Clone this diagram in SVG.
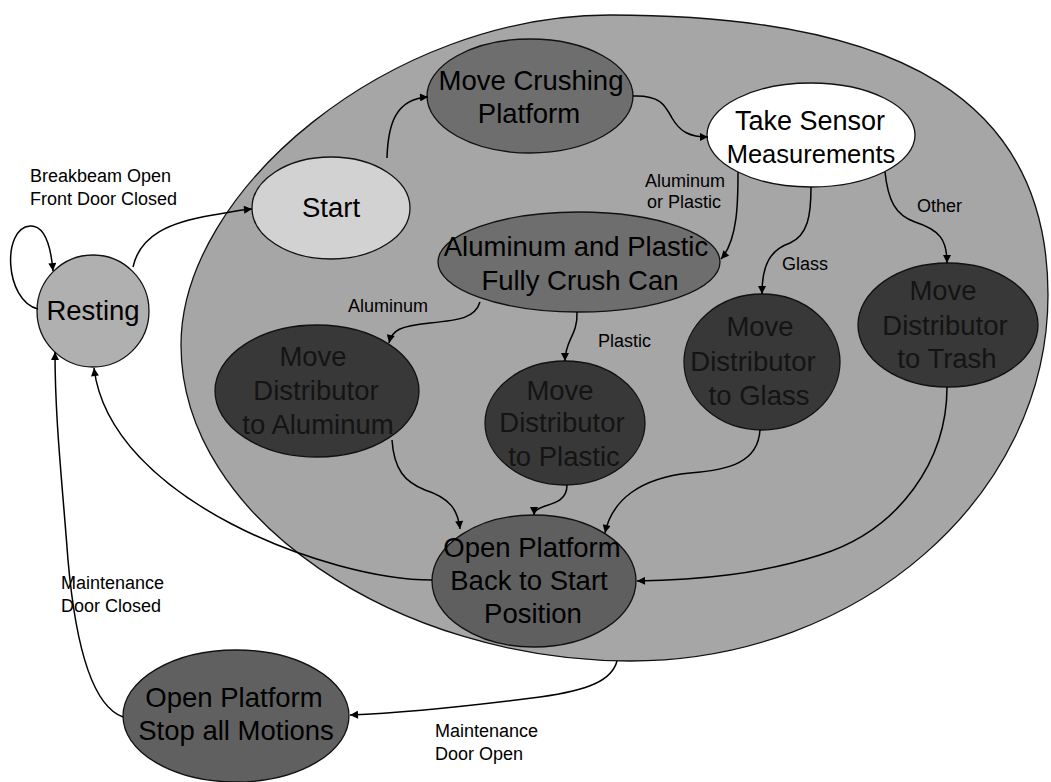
<svg xmlns="http://www.w3.org/2000/svg" width="1051" height="782" viewBox="0 0 1051 782">
<style>
.bg{fill:#ffffff}
.node{stroke:#111;stroke-width:1.3}
.t{font-family:"Liberation Sans",Arial,sans-serif;font-size:27.5px;fill:#000;text-anchor:middle}
.td{font-family:"Liberation Sans",Arial,sans-serif;font-size:27.5px;fill:#141414;text-anchor:middle}
.lbl{font-family:"Liberation Sans",Arial,sans-serif;font-size:18px;fill:#000}
.ca{fill:none;stroke:#000;stroke-width:1.5;marker-end:url(#ah)}
</style>
<defs>
<marker id="ah" viewBox="0 0 10 10" refX="10" refY="5" markerWidth="10" markerHeight="8" markerUnits="userSpaceOnUse" orient="auto">
<path d="M0,0 L10,5 L0,10 Z" fill="#000"/>
</marker>
</defs>
<rect class="bg" x="0" y="0" width="1051" height="782"/>

<g id="container">
<path class="node" fill="#a6a6a6" d="M181,345 C181,190 390,15 610,15 C900,15 1048,100 1048,295 C1048,496 860,661 630,661 C400,661 181,520 181,345 Z"/>
</g>

<g id="resting">
<circle class="node" fill="#b0b0b0" cx="93" cy="311" r="56"/>
<text class="t" x="93" y="320">Resting</text>
</g>

<g id="start">
<ellipse class="node" fill="#d2d2d2" cx="331" cy="208" rx="79" ry="51"/>
<text class="t" x="331" y="217">Start</text>
</g>

<g id="move-crushing">
<ellipse class="node" fill="#6e6e6e" cx="530" cy="96" rx="103" ry="57"/>
<text class="t" x="531" y="90">Move Crushing</text>
<text class="t" x="529" y="123">Platform</text>
</g>

<g id="take-sensor">
<ellipse class="node" fill="#ffffff" cx="811" cy="135" rx="104" ry="52"/>
<text class="t" x="810" y="130" style="font-size:27px">Take Sensor</text>
<text class="t" x="811" y="163" style="font-size:25.5px">Measurements</text>
</g>

<g id="fully-crush">
<ellipse class="node" fill="#6e6e6e" cx="579" cy="262" rx="141" ry="50"/>
<text class="t" x="576" y="256">Aluminum and Plastic</text>
<text class="t" x="580" y="290">Fully Crush Can</text>
</g>

<g id="dist-aluminum">
<ellipse class="node" fill="#383838" cx="317" cy="391" rx="102" ry="66"/>
<text class="td" x="313" y="366">Move</text>
<text class="td" x="316" y="400">Distributor</text>
<text class="td" x="318" y="434">to Aluminum</text>
</g>

<g id="dist-plastic">
<ellipse class="node" fill="#383838" cx="565" cy="423" rx="80" ry="62"/>
<text class="td" x="560" y="400">Move</text>
<text class="td" x="562" y="432">Distributor</text>
<text class="td" x="564" y="466">to Plastic</text>
</g>

<g id="dist-glass">
<ellipse class="node" fill="#383838" cx="762" cy="362" rx="78" ry="68"/>
<text class="td" x="760" y="336">Move</text>
<text class="td" x="753" y="371">Distributor</text>
<text class="td" x="759" y="405">to Glass</text>
</g>

<g id="dist-trash">
<ellipse class="node" fill="#383838" cx="948" cy="325" rx="90" ry="62"/>
<text class="td" x="943" y="300">Move</text>
<text class="td" x="945" y="335">Distributor</text>
<text class="td" x="947" y="368">to Trash</text>
</g>

<g id="open-back">
<ellipse class="node" fill="#5f5f5f" cx="534" cy="581" rx="102" ry="66"/>
<text class="t" x="532" y="557">Open Platform</text>
<text class="t" x="529" y="590">Back to Start</text>
<text class="t" x="533" y="623">Position</text>
</g>

<g id="open-stop">
<ellipse class="node" fill="#606060" cx="236" cy="716" rx="113" ry="66"/>
<text class="t" x="234" y="707">Open Platform</text>
<text class="t" x="236" y="740">Stop all Motions</text>
</g>

<g id="connectors">
<path class="ca" d="M38,309 C4,300 2,228 30,226 C46,225 51,248 53,271"/>
<path class="ca" d="M133,267 C140,235 170,222 213,215 C230,212 240,210 252,209"/>
<path class="ca" d="M387,158 C388,125 395,99 428,97"/>
<path class="ca" d="M633,96 C660,95 665,105 672,118 C680,132 690,137 708,137"/>
<path class="ca" d="M738,172 C738,200 738,240 721,259"/>
<path class="ca" d="M811,187 C811,215 808,235 790,243 C770,250 762,265 762,294"/>
<path class="ca" d="M885,172 C888,200 895,215 915,222 C940,230 947,240 947,263"/>
<path class="ca" d="M480,302 C475,318 460,320 430,323 C400,326 392,330 389,343"/>
<path class="ca" d="M577,312 C578,335 565,340 565,361"/>
<path class="ca" d="M392,440 C394,470 405,482 425,490 C450,498 458,510 460,529"/>
<path class="ca" d="M567,485 C567,500 555,503 545,506 C537,509 534,511 534,515"/>
<path class="ca" d="M760,430 C758,462 730,470 690,473 C640,478 612,500 605,533"/>
<path class="ca" d="M947,387 C947,460 900,530 820,555 C760,574 700,580 637,581"/>
<path class="ca" d="M432,580 C330,580 110,500 94,368"/>
<path class="ca" d="M617,661 C612,680 590,690 540,697 C470,706 400,713 350,715"/>
<path class="ca" d="M123,717 C90,705 75,640 68,560 C62,480 55,420 55,352"/>
</g>

<g id="labels">
<text class="lbl" x="30" y="182">Breakbeam Open</text>
<text class="lbl" x="30" y="205">Front Door Closed</text>
<text class="lbl" x="645" y="187">Aluminum</text>
<text class="lbl" x="647" y="208">or Plastic</text>
<text class="lbl" x="917" y="212">Other</text>
<text class="lbl" x="782" y="270">Glass</text>
<text class="lbl" x="348" y="312">Aluminum</text>
<text class="lbl" x="598" y="347">Plastic</text>
<text class="lbl" x="61" y="589">Maintenance</text>
<text class="lbl" x="61" y="612">Door Closed</text>
<text class="lbl" x="435" y="737">Maintenance</text>
<text class="lbl" x="435" y="760">Door Open</text>
</g>
</svg>
